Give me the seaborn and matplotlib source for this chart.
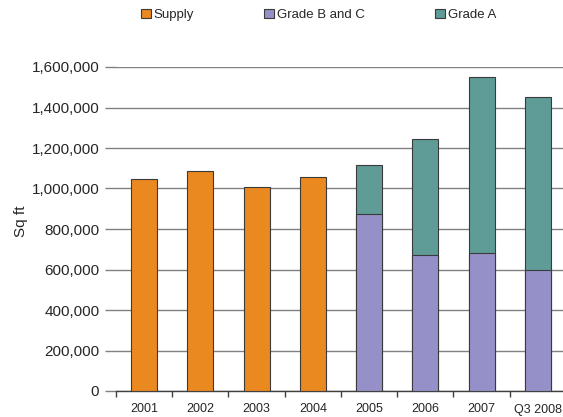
import matplotlib
matplotlib.use("Agg")
import matplotlib.pyplot as plt
import matplotlib.ticker as mticker
from matplotlib.patches import Patch
import numpy as np
import pandas as pd
import seaborn as sns

categories = ["2001", "2002", "2003", "2004", "2005", "2006", "2007", "Q3 2008"]
supply = [1047000, 1086000, 1007000, 1057000, np.nan, np.nan, np.nan, np.nan]
grade_bc = [np.nan, np.nan, np.nan, np.nan, 872000, 670000, 681000, 597000]
grade_a = [np.nan, np.nan, np.nan, np.nan, 242000, 576000, 868000, 856000]
series_names = ["Supply", "Grade B and C", "Grade A"]
yticks = [0, 200000, 400000, 600000, 800000, 1000000, 1200000, 1400000, 1600000]

c_supply = "#E9891F"
c_bc = "#9591C8"
c_a = "#5F9C98"
edge = "#3a3a3a"

sns.set_style("white")
plt.rcParams["font.family"] = ["Liberation Sans", "DejaVu Sans"]

df = pd.DataFrame({
    "cat": categories,
    "supply": supply,
    "bc": grade_bc,
    "total": np.array(grade_bc, dtype=float) + np.array(grade_a, dtype=float),
})

fig = plt.figure(figsize=(5.63, 4.17), dpi=100)
ax = fig.add_axes([116 / 563, 1 - 391 / 417, 450 / 563, (391 - 67) / 417])

w = 0.46
sns.barplot(data=df, x="cat", y="supply", order=categories, color=c_supply,
            width=w, edgecolor=edge, linewidth=0.8, saturation=1, ax=ax, zorder=3)
sns.barplot(data=df, x="cat", y="total", order=categories, color=c_a,
            width=w, edgecolor=edge, linewidth=0.8, saturation=1, ax=ax, zorder=3)
sns.barplot(data=df, x="cat", y="bc", order=categories, color=c_bc,
            width=w, edgecolor=edge, linewidth=0.8, saturation=1, ax=ax, zorder=4)

ax.set_xlim(-0.5, len(categories) - 0.5)
ax.set_ylim(0, 1600000)
ax.set_yticks(yticks)
ax.yaxis.set_major_formatter(mticker.FuncFormatter(lambda v, p: f"{int(v):,}"))
ax.tick_params(axis="y", labelsize=11, length=8, width=1, color="#808080",
               pad=4, left=True)
ax.grid(axis="y", color="#808080", linewidth=1, zorder=0)
ax.set_axisbelow(True)

ax.set_xticks(range(len(categories)))
ax.set_xticklabels(categories)
ax.set_xticks(np.arange(-0.5, len(categories), 1), minor=True)
ax.tick_params(axis="x", which="major", length=0, labelsize=9, pad=9)
ax.tick_params(axis="x", which="minor", length=4, width=1, color="#404040",
               direction="out", bottom=True)

for s in ["top", "right", "left"]:
    ax.spines[s].set_visible(False)
ax.spines["bottom"].set_color("#404040")
ax.spines["bottom"].set_linewidth(1)

ax.set_xlabel("")
ax.set_ylabel("Sq ft", fontsize=11)
ax.yaxis.set_label_coords((28 - 116) / 450, (391 - 221) / 324)

handles = [Patch(facecolor=c, edgecolor=edge, linewidth=0.8) for c in (c_supply, c_bc, c_a)]
fig.legend(handles, series_names, loc="center", bbox_to_anchor=(0.566, 0.964),
           ncol=3, frameon=False, fontsize=9.5, handlelength=0.75, handleheight=0.75,
           handletextpad=0.25, columnspacing=5.3)

fig.savefig("out.png", dpi=100)
